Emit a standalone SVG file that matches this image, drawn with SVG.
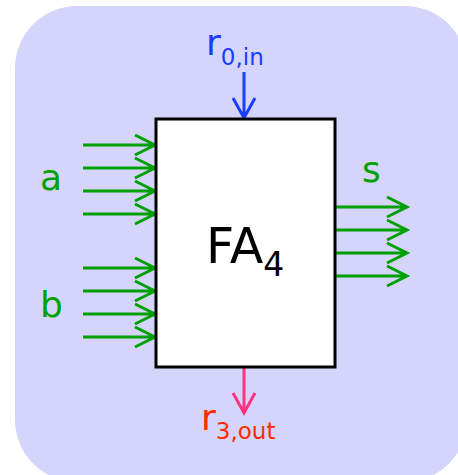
<svg xmlns="http://www.w3.org/2000/svg" width="458" height="475" viewBox="0 0 458 475">
<style>
.g{stroke:#00a000;stroke-width:3;fill:none;stroke-linejoin:miter}
.t{font-family:"DejaVu Sans",sans-serif}
</style>
<rect x="15" y="6" width="452" height="476" rx="62" fill="#d5d5fc"/>
<g id="connectors">
<g class="g">
<path d="M83 145H155M135 135L155 145L135 155"/>
<path d="M83 168H155M135 158L155 168L135 178"/>
<path d="M83 191H155M135 181L155 191L135 201"/>
<path d="M83 214H155M135 204L155 214L135 224"/>
<path d="M83 268H155M135 258L155 268L135 278"/>
<path d="M83 291H155M135 281L155 291L135 301"/>
<path d="M83 314H155M135 304L155 314L135 324"/>
<path d="M83 337H155M135 327L155 337L135 347"/>
<path d="M336 207H407M387 197L407 207L387 217"/>
<path d="M336 230H407M387 220L407 230L387 240"/>
<path d="M336 253H407M387 243L407 253L387 263"/>
<path d="M336 276H407M387 266L407 276L387 286"/>
</g>
<path d="M244 72V118M233 98L244 118L255 98" stroke="#1a3cff" stroke-width="3" fill="none"/>
<path d="M244 368V413M233 393L244 413L255 393" stroke="#ff3380" stroke-width="3" fill="none"/>
</g>
<g id="fa4">
<rect x="156" y="119" width="179" height="248" fill="#fff" stroke="#000" stroke-width="3"/>
<text class="t" x="206" y="263" font-size="49" fill="#000">FA<tspan font-size="33" dy="13">4</tspan></text>
</g>
<g id="labels" class="t">
<text x="40" y="190" font-size="36" fill="#00a000">a</text>
<text x="40" y="317" font-size="36" fill="#00a000">b</text>
<text x="362" y="182" font-size="36" fill="#00a000">s</text>
<text x="206" y="55" font-size="36" fill="#1a3cff">r<tspan font-size="23" dy="10">0,in</tspan></text>
<text x="201" y="430" font-size="36" fill="#ff2a00">r<tspan font-size="23" dy="9">3,out</tspan></text>
</g>
</svg>
